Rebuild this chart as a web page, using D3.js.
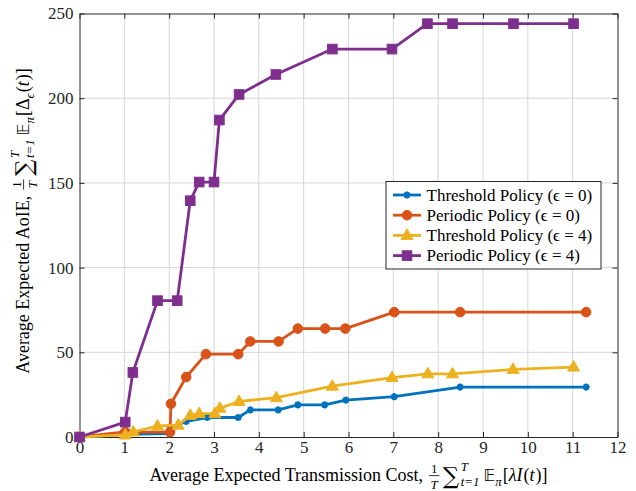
<!DOCTYPE html>
<html>
<head>
<meta charset="utf-8">
<script src="https://cdn.jsdelivr.net/npm/d3@7"></script>
<style>
  html, body { margin: 0; padding: 0; background: #fff; }
  svg { display: block; }
  svg text { font-family: "Liberation Serif", "Times New Roman", serif; }
</style>
</head>
<body>
<svg id="chart" width="636" height="491"></svg>
<script>
// Data
const xTicks = [0, 1, 2, 3, 4, 5, 6, 7, 8, 9, 10, 11, 12];
const yTicks = [0, 50, 100, 150, 200, 250];

const seriesNames = [
    'Threshold Policy (\u03f5 = 0)',
    'Periodic Policy (\u03f5 = 0)',
    'Threshold Policy (\u03f5 = 4)',
    'Periodic Policy (\u03f5 = 4)'
];
const seriesColors = ['#0072BD', '#D95319', '#EDB120', '#7E2F8E'];
const seriesMarkers = ['star', 'circle', 'triangle', 'square'];

const thresh0X = [0, 1, 2, 2.03, 2.38, 2.85, 3.54, 3.81, 4.43, 4.87, 5.47, 5.94, 7.02, 8.49, 11.3];
const thresh0Y = [0, 1.5, 2, 5.5, 9.2, 11.5, 11.5, 16, 16, 19, 19, 21.8, 23.8, 29.5, 29.5];

const period0X = [0, 1.02, 2.02, 2.04, 2.38, 2.82, 3.54, 3.81, 4.44, 4.87, 5.48, 5.93, 7.02, 8.49, 11.3];
const period0Y = [0, 3, 2.9, 19.6, 35.4, 48.9, 48.9, 56.4, 56.4, 64, 64, 64, 73.7, 73.7, 73.7];

const thresh4X = [0, 1.02, 1.2, 1.74, 2.2, 2.47, 2.67, 3.02, 3.13, 3.56, 4.39, 5.64, 6.97, 7.77, 8.32, 9.67, 11.02];
const thresh4Y = [0, 1.2, 3, 6.5, 7, 12.8, 13.8, 13.8, 17, 21, 23.2, 30, 35.1, 37.3, 37.3, 39.9, 41.3];

const period4X = [0, 1.02, 1.19, 1.74, 2.18, 2.47, 2.67, 3.0, 3.12, 3.56, 4.38, 5.64, 6.97, 7.76, 8.32, 9.68, 11.02];
const period4Y = [0, 8.8, 38.1, 80.5, 80.5, 139.5, 150.5, 150.5, 187.1, 202.2, 214, 229, 229, 244, 244, 244, 244];

const seriesX = [thresh0X, period0X, thresh4X, period4X];
const seriesY = [thresh0Y, period0Y, thresh4Y, period4Y];

const SERIF = '"Liberation Serif", "Times New Roman", serif';
const FS = 17;
const TITLE_FS = 18;

// Layout
const margin = { top: 13.5, right: 18.5, bottom: 54, left: 79.5 };
const svg = d3.select('#chart');
const W = +svg.attr('width') - margin.left - margin.right;
const H = +svg.attr('height') - margin.top - margin.bottom;

const x = d3.scaleLinear().domain([0, 12]).range([0, W]);
const y = d3.scaleLinear().domain([0, 250]).range([H, 0]);

const g = svg.append('g').attr('transform', `translate(${margin.left},${margin.top})`);

// Grid
g.append('g').selectAll('line').data(xTicks.slice(1, -1)).join('line')
    .attr('x1', d => x(d)).attr('x2', d => x(d))
    .attr('y1', 0).attr('y2', H)
    .attr('stroke', '#d6d6d6').attr('stroke-width', 1);
g.append('g').selectAll('line').data(yTicks.slice(1, -1)).join('line')
    .attr('x1', 0).attr('x2', W)
    .attr('y1', d => y(d)).attr('y2', d => y(d))
    .attr('stroke', '#d6d6d6').attr('stroke-width', 1);

// Axes (ticks point inward, like the original)
const axes = [
    g.append('g').attr('transform', `translate(0,${H})`)
        .call(d3.axisBottom(x).tickValues(xTicks).tickSize(-5).tickPadding(4).tickSizeOuter(0)),
    g.append('g')
        .call(d3.axisLeft(y).tickValues(yTicks).tickSize(-5).tickPadding(6).tickSizeOuter(0)),
    g.append('g')
        .call(d3.axisTop(x).tickValues(xTicks).tickSize(-5).tickFormat('').tickSizeOuter(0)),
    g.append('g').attr('transform', `translate(${W},0)`)
        .call(d3.axisRight(y).tickValues(yTicks).tickSize(-5).tickFormat('').tickSizeOuter(0))
];
axes.forEach(a => {
    a.attr('font-family', null).attr('font-size', null);
    a.select('.domain').attr('stroke', '#262626').attr('stroke-width', 1);
    a.selectAll('.tick line').attr('stroke', '#262626');
    a.selectAll('.tick text').style('font-family', SERIF).style('font-size', FS + 'px').attr('fill', '#262626');
});

// Markers
function drawMarker(sel, type, color, cx, cy) {
    if (type === 'circle') {
        sel.append('circle').attr('cx', cx).attr('cy', cy).attr('r', 4.8)
            .attr('fill', color).attr('stroke', color).attr('stroke-width', 1);
    } else if (type === 'square') {
        sel.append('rect').attr('x', cx - 4.8).attr('y', cy - 4.8)
            .attr('width', 9.6).attr('height', 9.6)
            .attr('fill', color).attr('stroke', color).attr('stroke-width', 1);
    } else if (type === 'triangle') {
        sel.append('path')
            .attr('d', `M${cx},${cy - 6.5}L${cx + 6},${cy + 4}L${cx - 6},${cy + 4}Z`)
            .attr('fill', color).attr('stroke', color).attr('stroke-width', 1);
    } else {
        const r = 3.6;
        const p = d3.range(4).map(i => {
            const a = i * Math.PI / 4;
            return `M${cx - r * Math.cos(a)},${cy - r * Math.sin(a)}L${cx + r * Math.cos(a)},${cy + r * Math.sin(a)}`;
        }).join('');
        sel.append('path').attr('d', p).attr('stroke', color).attr('stroke-width', 2);
    }
}

const line = d3.line().x(d => x(d[0])).y(d => y(d[1]));

seriesX.forEach((xs, i) => {
    const pts = xs.map((v, j) => [v, seriesY[i][j]]);
    const sg = g.append('g');
    sg.append('path').datum(pts).attr('d', line)
        .attr('fill', 'none').attr('stroke', seriesColors[i])
        .attr('stroke-width', 2.8).attr('stroke-linejoin', 'round');
    pts.forEach(p => drawMarker(sg, seriesMarkers[i], seriesColors[i], x(p[0]), y(p[1])));
});

// Legend
const legX = 386 - margin.left, legY = 181.5 - margin.top;
const leg = g.append('g').attr('transform', `translate(${legX},${legY})`);
leg.append('rect').attr('width', 215).attr('height', 87.5)
    .attr('fill', '#fff').attr('stroke', '#262626').attr('stroke-width', 1);
seriesNames.forEach((name, i) => {
    const ry = 13.5 + i * 20.2;
    leg.append('line').attr('x1', 7).attr('x2', 35).attr('y1', ry).attr('y2', ry)
        .attr('stroke', seriesColors[i]).attr('stroke-width', 2.8);
    drawMarker(leg, seriesMarkers[i], seriesColors[i], 21, ry);
    leg.append('text').attr('x', 40.5).attr('y', ry + 5.5)
        .style('font-family', SERIF).style('font-size', FS + 'px').attr('fill', '#000').text(name);
});

// Simple math-ish label builder: places pieces left to right, measuring as it goes
function mathLabel(parent, pieces, size) {
    const grp = parent.append('g');
    let cx = 0;
    const txt = (xx, yy, s, str, it, font) => grp.append('text')
        .attr('x', xx).attr('y', yy)
        .style('font-family', font || SERIF).style('font-size', s + 'px')
        .style('font-style', it ? 'italic' : 'normal').attr('fill', '#000').text(str);
    pieces.forEach(p => {
        if (p.frac) {
            const s = size * 0.72;
            const a = txt(0, -size * 0.42, s, p.frac[0]);
            const b = txt(0, size * 0.42, s, p.frac[1], true);
            const la = a.node().getComputedTextLength(), lb = b.node().getComputedTextLength();
            const w = Math.max(la, lb) + 3;
            a.attr('x', cx + 1.5 + (w - la) / 2);
            b.attr('x', cx + 1.5 + (w - lb) / 2);
            grp.append('line').attr('x1', cx + 1.5).attr('x2', cx + 1.5 + w)
                .attr('y1', -size * 0.3).attr('y2', -size * 0.3)
                .attr('stroke', '#000').attr('stroke-width', 0.8);
            cx += w + 5;
        } else if (p.supsub) {
            const s = size * 0.72;
            const a = txt(cx, -size * 0.58, s, p.supsub[0], true);
            const b = txt(cx, size * 0.3, s, p.supsub[1], true);
            cx += Math.max(a.node().getComputedTextLength(), b.node().getComputedTextLength()) + 4;
        } else if (p.sub) {
            const t = txt(cx, size * 0.3, size * 0.72, p.sub, true);
            cx += t.node().getComputedTextLength() + 1;
        } else {
            const t = txt(cx, p.dy || 0, p.size || size, p.t, p.it, p.font);
            cx += t.node().getComputedTextLength() + (p.pad || 0);
        }
    });
    return { grp, width: cx };
}

// x-axis title
const xl = mathLabel(svg, [
    { t: 'Average Expected Transmission Cost,\u00a0' },
    { frac: ['1', 'T'] },
    { t: '\u2211', size: 23, dy: 3, pad: 1.5, font: 'DejaVu Serif' },
    { supsub: ['T', 't=1'] },
    { t: '\u{1D53C}', font: 'DejaVu Sans', size: 16 },
    { sub: '\u03c0' },
    { t: '[' },
    { t: '\u03bbI', it: true, pad: 1 },
    { t: '(' },
    { t: 't', it: true, pad: 1 },
    { t: ')]' }
], TITLE_FS);
xl.grp.attr('transform', `translate(${margin.left + W / 2 - xl.width / 2},${481})`);

// y-axis title
const yl = mathLabel(svg, [
    { t: 'Average Expected AoIE,\u00a0' },
    { frac: ['1', 'T'] },
    { t: '\u2211', size: 23, dy: 3, pad: 1.5, font: 'DejaVu Serif' },
    { supsub: ['T', 't=1'] },
    { t: '\u{1D53C}', font: 'DejaVu Sans', size: 16 },
    { sub: '\u03c0' },
    { t: '[\u0394' },
    { sub: '\u03f5' },
    { t: '(' },
    { t: 't', it: true, pad: 1 },
    { t: ')]' }
], TITLE_FS);
yl.grp.attr('transform', `translate(29,${221 + yl.width / 2}) rotate(-90)`);
</script>
</body>
</html>
